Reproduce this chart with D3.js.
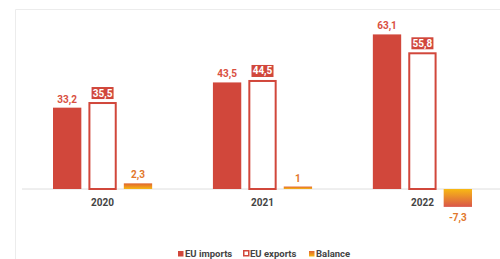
<!DOCTYPE html>
<html lang="en">
<head>
    <meta charset="utf-8">
    <title>EU trade balance</title>
    <script type="text/javascript" src="https://cdn.jsdelivr.net/npm/d3@7"></script>
    <style>
        body { margin: 0; background: #fff; }
        text { font-family: Roboto, sans-serif; font-weight: 700; }
    </style>
</head>
<body>
<script type="text/javascript">
    var years = ["2020", "2021", "2022"];
    var series = ["EU imports", "EU exports", "Balance"];
    var imports = [33.2, 43.5, 63.1];
    var exports = [35.5, 44.5, 55.8];
    var balance = [2.3, 1, -7.3];

    var w = 500;
    var h = 259;
    var red = "#d1473b";
    var orange = "#e2782c";

    var fmt = function(v) { return String(v).replace(".", ","); };

    var svg = d3.select("body")
        .append("svg")
        .attr("width", w)
        .attr("height", h);

    // gradients for the balance bars (yellow at the baseline, red away from it)
    var defs = svg.append("defs");
    var gUp = defs.append("linearGradient").attr("id", "balUp")
        .attr("x1", 0).attr("y1", 1).attr("x2", 0).attr("y2", 0);
    gUp.append("stop").attr("offset", "0%").attr("stop-color", "#f7b814");
    gUp.append("stop").attr("offset", "100%").attr("stop-color", "#e0632f");
    var gDown = defs.append("linearGradient").attr("id", "balDown")
        .attr("x1", 0).attr("y1", 0).attr("x2", 0).attr("y2", 1);
    gDown.append("stop").attr("offset", "0%").attr("stop-color", "#f8b914");
    gDown.append("stop").attr("offset", "100%").attr("stop-color", "#d9554a");

    // faint panel frame
    svg.append("path")
        .attr("d", "M15.5,259V9.5H500")
        .attr("fill", "none")
        .attr("stroke", "#ececec");

    var x0 = d3.scaleBand()
        .domain(years)
        .range([53, 472])
        .paddingInner(0.38);
    var x1 = d3.scaleBand()
        .domain(series)
        .range([0, x0.bandwidth()])
        .paddingInner(0.2);
    var y = d3.scaleLinear()
        .domain([-10, 70])
        .range([213.5, 17.5]);

    // baseline
    svg.append("line")
        .attr("x1", 22).attr("x2", w)
        .attr("y1", y(0)).attr("y2", y(0))
        .attr("stroke", "#dedede");

    var rows = years.map(function(yr, i) {
        return { year: yr, imp: imports[i], exp: exports[i], bal: balance[i] };
    });

    var groups = svg.selectAll("g.year")
        .data(rows)
        .enter()
        .append("g")
        .attr("class", "year")
        .attr("transform", function(d) { return "translate(" + x0(d.year) + ",0)"; });

    // imports
    groups.append("rect")
        .attr("x", x1("EU imports"))
        .attr("width", x1.bandwidth())
        .attr("y", function(d) { return y(d.imp); })
        .attr("height", function(d) { return y(0) - y(d.imp); })
        .attr("fill", red);
    groups.append("text")
        .text(function(d) { return fmt(d.imp); })
        .attr("x", x1("EU imports") + x1.bandwidth() / 2)
        .attr("y", function(d) { return y(d.imp) - 5; })
        .attr("text-anchor", "middle")
        .attr("font-size", "10px")
        .attr("fill", "#d9503f");

    // exports (outlined)
    groups.append("rect")
        .attr("x", x1("EU exports") + 1)
        .attr("width", x1.bandwidth() - 2)
        .attr("y", function(d) { return y(d.exp) + 1; })
        .attr("height", function(d) { return y(0) - y(d.exp) - 1; })
        .attr("fill", "#fff")
        .attr("stroke", red)
        .attr("stroke-width", 2);
    groups.append("rect")
        .attr("x", x1("EU exports") + x1.bandwidth() / 2 - 11)
        .attr("width", 22)
        .attr("y", function(d) { return y(d.exp) - 15; })
        .attr("height", 12)
        .attr("fill", red);
    groups.append("text")
        .text(function(d) { return fmt(d.exp); })
        .attr("x", x1("EU exports") + x1.bandwidth() / 2)
        .attr("y", function(d) { return y(d.exp) - 5.5; })
        .attr("text-anchor", "middle")
        .attr("font-size", "10px")
        .attr("fill", "#fff");

    // balance
    groups.append("rect")
        .attr("x", x1("Balance"))
        .attr("width", x1.bandwidth())
        .attr("y", function(d) { return y(Math.max(0, d.bal)); })
        .attr("height", function(d) { return Math.abs(y(0) - y(d.bal)); })
        .attr("fill", function(d) { return d.bal >= 0 ? "url(#balUp)" : "url(#balDown)"; });
    groups.append("text")
        .text(function(d) { return fmt(d.bal); })
        .attr("x", x1("Balance") + x1.bandwidth() / 2)
        .attr("y", function(d) { return d.bal >= 0 ? y(d.bal) - 5 : y(d.bal) + 14; })
        .attr("text-anchor", "middle")
        .attr("font-size", "10px")
        .attr("fill", orange);

    // year labels
    groups.append("text")
        .text(function(d) { return d.year; })
        .attr("x", x1("EU exports") + x1.bandwidth() / 2)
        .attr("y", y(0) + 17)
        .attr("text-anchor", "middle")
        .attr("font-size", "10px")
        .attr("fill", "#444");

    // legend
    var legendX = [178, 243, 309];
    var legend = svg.selectAll("g.legend")
        .data(series)
        .enter()
        .append("g")
        .attr("class", "legend")
        .attr("transform", function(d, i) { return "translate(" + legendX[i] + ",254)"; });
    legend.append("rect")
        .attr("x", function(d, i) { return i === 1 ? 0.75 : 0; })
        .attr("y", function(d, i) { return i === 1 ? -3.25 : -3; })
        .attr("width", function(d, i) { return i === 1 ? 5 : 5.5; })
        .attr("height", function(d, i) { return i === 1 ? 5 : 5.5; })
        .attr("fill", function(d, i) { return i === 0 ? red : i === 1 ? "#fff" : "url(#balUp)"; })
        .attr("stroke", function(d, i) { return i === 1 ? red : "none"; })
        .attr("stroke-width", 1.5);
    legend.append("text")
        .text(function(d) { return d; })
        .attr("x", 7)
        .attr("y", 3.2)
        .attr("font-size", "9.5px")
        .attr("fill", "#444");
</script>
</body>
</html>
